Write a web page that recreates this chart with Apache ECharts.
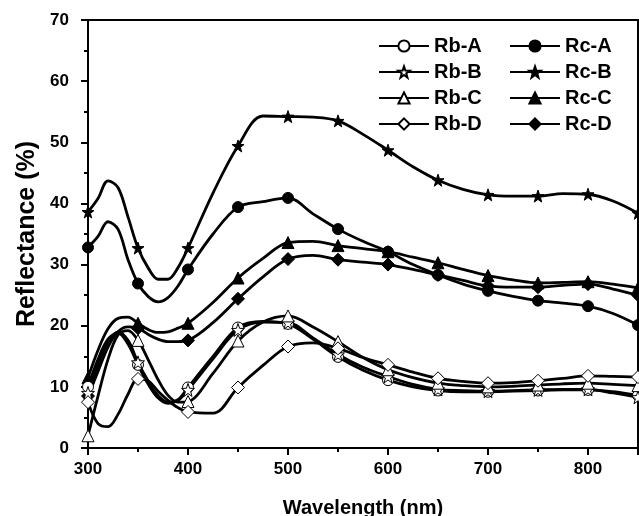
<!DOCTYPE html>
<html>
<head>
<meta charset="utf-8">
<script src="https://cdn.jsdelivr.net/npm/echarts@6/dist/echarts.min.js"></script>
<style>
  html, body { margin: 0; padding: 0; background: #fff; }
  #chart { width: 639px; height: 516px; }
</style>
</head>
<body>
<div id="chart"></div>
<script>
// Sampling grid (nm) shared by all spectra
const wavelength = [300, 310, 320, 330, 340, 350, 360, 370, 380, 390, 400, 425, 450, 475, 500, 525, 550, 575, 600, 625, 650, 675, 700, 725, 750, 775, 800, 825, 850];

// Reflectance (%) of each sample
const rbA = [10.0, 14.5, 17.8, 18.8, 17.0, 13.6, 10.5, 8.2, 7.3, 7.9, 9.9, 15.0, 19.7, 20.7, 20.3, 17.8, 14.9, 12.7, 11.1, 10.0, 9.4, 9.2, 9.2, 9.3, 9.4, 9.5, 9.5, 9.2, 8.6];
const rbB = [9.0, 13.5, 17.3, 19.0, 17.6, 14.0, 11.0, 8.6, 7.5, 7.8, 9.5, 14.6, 19.3, 20.6, 20.5, 18.0, 15.3, 13.2, 11.7, 10.4, 9.6, 9.4, 9.3, 9.4, 9.5, 9.6, 9.6, 9.0, 8.3];
const rbC = [2.0, 8.5, 14.5, 18.5, 19.2, 17.6, 14.5, 11.2, 8.6, 7.5, 7.6, 12.2, 17.5, 20.6, 21.6, 19.8, 17.4, 14.8, 12.8, 11.5, 10.6, 10.2, 10.0, 10.1, 10.3, 10.5, 10.6, 10.4, 10.2];
const rbD = [7.5, 4.0, 3.5, 5.5, 8.8, 11.3, 11.0, 9.3, 7.8, 6.6, 5.9, 5.7, 9.9, 13.5, 16.6, 17.2, 16.3, 14.8, 13.6, 12.4, 11.4, 10.9, 10.6, 10.7, 11.0, 11.4, 11.8, 11.7, 11.6];
const rcA = [32.8, 34.6, 37.0, 35.8, 30.8, 26.9, 24.8, 23.9, 24.6, 26.5, 29.2, 35.0, 39.4, 40.3, 40.9, 38.3, 35.8, 33.8, 32.1, 30.0, 28.3, 26.8, 25.7, 24.8, 24.1, 23.7, 23.2, 22.0, 20.1];
const rcB = [38.6, 40.8, 43.7, 42.6, 37.8, 32.7, 29.5, 27.6, 27.6, 29.5, 32.7, 41.7, 49.4, 54.3, 54.2, 54.1, 53.5, 51.3, 48.7, 46.0, 43.8, 42.3, 41.4, 41.2, 41.2, 41.6, 41.5, 40.4, 38.4];
const rcC = [11.5, 16.0, 19.5, 21.2, 21.4, 20.4, 19.4, 18.9, 19.0, 19.6, 20.4, 23.8, 27.8, 31.0, 33.6, 33.8, 33.1, 32.6, 32.1, 31.2, 30.3, 29.2, 28.2, 27.5, 27.0, 27.1, 27.2, 26.8, 26.2];
const rcD = [8.5, 12.5, 16.5, 19.0, 19.8, 19.6, 18.6, 17.8, 17.4, 17.4, 17.6, 20.5, 24.4, 28.0, 30.9, 31.5, 30.8, 30.4, 30.0, 29.2, 28.3, 27.4, 26.5, 26.3, 26.3, 26.6, 26.8, 26.0, 25.0];

// Axis ticks
const xTicks = [300, 400, 500, 600, 700, 800];
const yTicks = [0, 10, 20, 30, 40, 50, 60, 70];

const STAR = 'path://M0,-10L2.35,-3.24L9.51,-3.09L3.8,1.24L5.88,8.09L0,4L-5.88,8.09L-3.8,1.24L-9.51,-3.09L-2.35,-3.24Z';
const FONT = '"Liberation Sans", Arial, sans-serif';

function pairs(values) {
  return wavelength.map((w, i) => [w, values[i]]);
}

function makeSeries(name, values, symbol, size, open) {
  return {
    name: name,
    type: 'line',
    data: pairs(values),
    smooth: 0.35,
    symbol: symbol,
    symbolSize: (v) => (v[0] % 50 === 0 ? size : 0),
    showAllSymbol: true,
    color: '#000',
    lineStyle: { color: '#000', width: 2.8 },
    itemStyle: open
      ? { color: '#fff', borderColor: '#000', borderWidth: 1 }
      : { color: '#000', borderColor: '#000', borderWidth: 1 },
    emphasis: { disabled: true },
    z: open ? 3 : 2
  };
}

const series = [
  makeSeries('Rb-A', rbA, 'circle', 11, true),
  makeSeries('Rb-B', rbB, STAR, 13, true),
  makeSeries('Rb-C', rbC, 'triangle', 12, true),
  makeSeries('Rb-D', rbD, 'diamond', 13, true),
  makeSeries('Rc-A', rcA, 'circle', 11, false),
  makeSeries('Rc-B', rcB, STAR, 12, false),
  makeSeries('Rc-C', rcC, 'triangle', 12, false),
  makeSeries('Rc-D', rcD, 'diamond', 13, false)
];

const legendText = { fontFamily: FONT, fontWeight: 'bold', fontSize: 20, color: '#000' };

const chart = echarts.init(document.getElementById('chart'), null, { renderer: 'canvas' });
chart.setOption({
  animation: false,
  backgroundColor: '#fff',
  grid: {
    left: 88, right: 1, top: 20, bottom: 68,
    outerBoundsMode: 'none', containLabel: false,
    show: true, borderColor: '#000', borderWidth: 2, backgroundColor: 'transparent'
  },
  legend: [
    {
      data: ['Rb-A', 'Rb-B', 'Rb-C', 'Rb-D'],
      orient: 'vertical', left: 373, top: 31,
      itemWidth: 50, itemHeight: 14, itemGap: 6,
      textStyle: legendText, selectedMode: false
    },
    {
      data: ['Rc-A', 'Rc-B', 'Rc-C', 'Rc-D'],
      orient: 'vertical', left: 504, top: 31,
      itemWidth: 50, itemHeight: 14, itemGap: 6,
      textStyle: legendText, selectedMode: false
    }
  ],
  xAxis: {
    type: 'value', min: 300, max: 850, interval: 100,
    name: 'Wavelength (nm)', nameLocation: 'middle', nameGap: 50,
    nameTextStyle: { fontFamily: FONT, fontWeight: 'bold', fontSize: 20, color: '#000' },
    axisLine: { show: true, lineStyle: { color: '#000', width: 2 } },
    axisTick: { show: true, inside: false, length: 7, lineStyle: { color: '#000', width: 2 } },
    minorTick: { show: true, splitNumber: 2, length: 4, lineStyle: { color: '#000', width: 2 } },
    splitLine: { show: false },
    axisLabel: {
      fontFamily: FONT, fontWeight: 'bold', fontSize: 17, color: '#000', margin: 13,
      formatter: (v) => (xTicks.includes(v) ? String(v) : '')
    }
  },
  yAxis: {
    type: 'value', min: 0, max: 70, interval: 10,
    name: 'Reflectance (%)', nameLocation: 'middle', nameGap: 48,
    nameTextStyle: { fontFamily: FONT, fontWeight: 'bold', fontSize: 25, color: '#000' },
    axisLine: { show: true, lineStyle: { color: '#000', width: 2 } },
    axisTick: { show: true, inside: false, length: 7, lineStyle: { color: '#000', width: 2 } },
    minorTick: { show: true, splitNumber: 2, length: 4, lineStyle: { color: '#000', width: 2 } },
    splitLine: { show: false },
    axisLabel: {
      fontFamily: FONT, fontWeight: 'bold', fontSize: 17, color: '#000', margin: 19,
      formatter: (v) => (yTicks.includes(v) ? String(v) : '')
    }
  },
  series: series
});
</script>
</body>
</html>
